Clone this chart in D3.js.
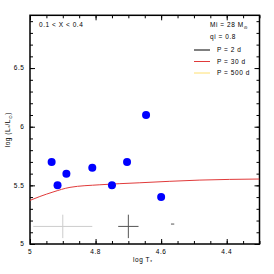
<!DOCTYPE html>
<html>
<head>
<meta charset="utf-8">
<script src="https://cdn.jsdelivr.net/npm/d3@7"></script>
<style>
html,body{margin:0;padding:0;background:#fff;}
svg{display:block;}
text{font-family:"Liberation Sans","DejaVu Sans",sans-serif;fill:#000;}
</style>
</head>
<body>
<svg id="chart" width="274" height="274"></svg>
<script>
// ---- data ----
const starLogT = [4.934, 4.916, 4.889, 4.81, 4.75, 4.704, 4.646, 4.6];
const starLogL = [5.7, 5.5, 5.6, 5.65, 5.5, 5.7, 6.1, 5.4];
const trackLogT = [5.0, 4.97, 4.93, 4.878, 4.787, 4.665, 4.482, 4.3];
const trackLogL = [5.372, 5.405, 5.443, 5.483, 5.505, 5.522, 5.545, 5.554];
const errLogT = [4.90, 4.70, 4.565];
const errLogL = [5.15, 5.15, 5.17];
const errDT = [0.09, 0.031, 0.005];
const errDL = [0.1, 0.1, 0.0];
const xMajorTicks = [5, 4.8, 4.6, 4.4];
const xTickLabels = ["5", "4.8", "4.6", "4.4"];
const yMajorTicks = [5, 5.5, 6, 6.5];
const yTickLabels = ["5", "5.5", "6", "6.5"];
const legendLabels = ["P = 2 d", "P = 30 d", "P = 500 d"];
const legendColors = ["#000000", "#e03a3a", "#ffe070"];

// ---- layout ----
const L = 30, R = 259.5, T = 15.3, B = 244;
const x = d3.scaleLinear().domain([5, 4.3]).range([L, R]);
const y = d3.scaleLinear().domain([5, 6.95]).range([B, T]);
const svg = d3.select("#chart");

svg.append("defs").append("clipPath").attr("id","clip")
  .append("rect").attr("x",L).attr("y",T).attr("width",R-L).attr("height",B-T);

const fs = 6.5, ls = 0.55;
function tickSet(axisGen, tr, major, minor, majorLen, minorLen){
  const g1 = svg.append("g").attr("transform", tr)
    .call(axisGen.tickValues(minor).tickSize(minorLen).tickFormat(""));
  g1.select(".domain").remove();
  g1.selectAll("line").attr("stroke","#000").attr("stroke-width",1);
  const g2 = svg.append("g").attr("transform", tr)
    .call(axisGen.tickValues(major).tickSize(majorLen).tickFormat(""));
  g2.select(".domain").remove();
  g2.selectAll("line").attr("stroke","#000").attr("stroke-width",1);
}
const xMinor = d3.range(0, 15).map(i => +(5 - i*0.05).toFixed(2)).filter(v => v >= 4.3);
const yMinor = d3.range(0, 20).map(i => +(5 + i*0.1).toFixed(1)).filter(v => v <= 6.95);
tickSet(d3.axisTop(x), `translate(0,${B})`, xMajorTicks, xMinor, 5, 3);
tickSet(d3.axisBottom(x), `translate(0,${T})`, xMajorTicks, xMinor, 5, 3);
tickSet(d3.axisRight(y), `translate(${L},0)`, yMajorTicks, yMinor, 5, 3);
tickSet(d3.axisLeft(y), `translate(${R},0)`, yMajorTicks, yMinor, 5, 3);

// frame
svg.append("rect").attr("x",L).attr("y",T).attr("width",R-L).attr("height",B-T)
  .attr("fill","none").attr("stroke","#000").attr("stroke-width",1.5);

// tick labels
svg.append("g").selectAll("text").data(xMajorTicks).join("text")
  .attr("x", d => x(d)).attr("y", B + 9.5)
  .attr("text-anchor","middle").attr("font-size",fs).attr("letter-spacing",ls)
  .text((d,i) => xTickLabels[i]);
svg.append("g").selectAll("text").data(yMajorTicks).join("text")
  .attr("x", L - 5.5).attr("y", d => y(d) + 2.3)
  .attr("text-anchor","end").attr("font-size",fs).attr("letter-spacing",ls)
  .text((d,i) => yTickLabels[i]);

// axis titles
const xt = svg.append("text").attr("x", (L+R)/2 - 2).attr("y", 262)
  .attr("text-anchor","middle").attr("font-size",fs).attr("letter-spacing",ls);
xt.append("tspan").text("log T");
xt.append("tspan").attr("font-size",4.5).attr("dy",1.5).text("*");
const yt = svg.append("text").attr("transform", `translate(10,${(T+B)/2}) rotate(-90)`)
  .attr("text-anchor","middle").attr("font-size",fs).attr("letter-spacing",ls);
yt.append("tspan").text("log (L");
yt.append("tspan").attr("font-size",4.5).attr("dy",1.5).text("*");
yt.append("tspan").attr("dy",-1.5).text("/L");
yt.append("tspan").attr("font-size",4.5).attr("dy",1.5).text("⊙");
yt.append("tspan").attr("dy",-1.5).text(")");

// track line
const plot = svg.append("g").attr("clip-path","url(#clip)");
const trackData = trackLogT.map((t,i) => [t, trackLogL[i]]);
plot.append("path").datum(trackData)
  .attr("d", d3.line().x(d => x(d[0])).y(d => y(d[1])).curve(d3.curveMonotoneX))
  .attr("fill","none").attr("stroke", legendColors[1]).attr("stroke-width",1);

// error bars
const errColors = ["#cccccc", "#555555", "#555555"];
errLogT.forEach((t,i) => {
  const g = plot.append("g").attr("stroke", errColors[i]).attr("stroke-width",1);
  g.append("line").attr("x1", x(t - errDT[i])).attr("x2", x(t + errDT[i]))
    .attr("y1", y(errLogL[i])).attr("y2", y(errLogL[i]));
  if (errDL[i] > 0) {
    g.append("line").attr("x1", x(t)).attr("x2", x(t))
      .attr("y1", y(errLogL[i] - errDL[i])).attr("y2", y(errLogL[i] + errDL[i]));
  }
});

// stars
plot.append("g").selectAll("circle").data(starLogT).join("circle")
  .attr("cx", d => x(d)).attr("cy", (d,i) => y(starLogL[i]))
  .attr("r", 4).attr("fill","#0000ff");

// annotation
svg.append("text").attr("x", 39).attr("y", 27).attr("font-size",fs).attr("letter-spacing",ls)
  .text("0.1 < X < 0.4");
const m = svg.append("text").attr("x", 210).attr("y", 27).attr("font-size",fs).attr("letter-spacing",ls);
m.append("tspan").text("Mi = 28 M");
m.append("tspan").attr("font-size",4.5).attr("dy",1.5).text("⊙");
svg.append("text").attr("x", 210).attr("y", 39).attr("font-size",fs).attr("letter-spacing",ls).text("qi = 0.8");

// legend
const lg = svg.append("g");
legendLabels.forEach((lab,i) => {
  const yy = 50 + i*11.5;
  lg.append("line").attr("x1",194).attr("x2",210).attr("y1",yy).attr("y2",yy)
    .attr("stroke", legendColors[i]).attr("stroke-width",1);
  lg.append("text").attr("x",217).attr("y",yy+2.3).attr("font-size",fs).attr("letter-spacing",ls).text(lab);
});
</script>
</body>
</html>
